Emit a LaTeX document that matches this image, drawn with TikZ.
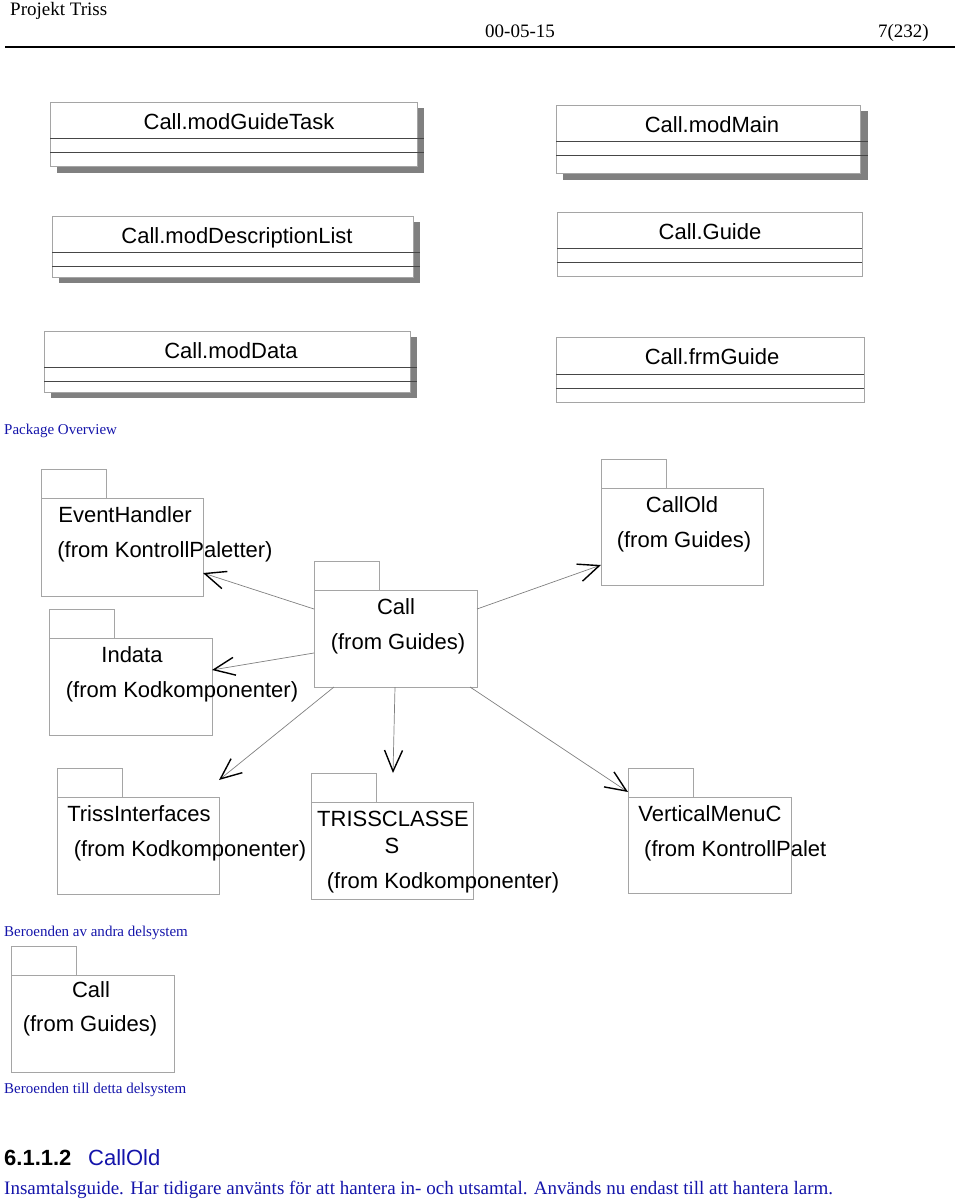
\documentclass[tikz,border=0pt]{standalone}
\usepackage{fontspec}
\setmainfont{Liberation Serif}
\setsansfont{Liberation Sans}
\usetikzlibrary{arrows.meta,calc,fit}
\definecolor{docblue}{RGB}{20,20,170}
\definecolor{boxgray}{RGB}{165,165,165}
\definecolor{sepgray}{RGB}{70,70,70}
\definecolor{shadowgray}{RGB}{128,128,128}
\tikzset{
  pkgbody/.style={draw=boxgray,line width=0.9pt,fill=white,inner sep=0pt,outer sep=0pt,anchor=north west},
  pkgtab/.style={draw=boxgray,line width=0.9pt,inner sep=0pt,outer sep=0pt,anchor=south west,minimum width=65pt,minimum height=29pt},
  clsbox/.style={draw=boxgray,line width=0.9pt,fill=white,inner sep=0pt,outer sep=0pt},
  clsshadow/.style={fill=shadowgray,draw=none},
  clssep/.style={draw=sepgray,line width=0.8pt},
  umltxt/.style={font=\fontsize{22}{26}\selectfont\sffamily,inner sep=0pt,anchor=base},
  hdrtxt/.style={font=\fontsize{19}{22}\selectfont,inner sep=0pt,anchor=base},
  captxt/.style={font=\fontsize{15}{18}\selectfont,text=docblue,inner sep=0pt,anchor=base west},
  dep/.style={draw=gray,line width=0.7pt,-{Straight Barb[length=21pt,width=18pt,line width=1.4pt,black]}},
}
\begin{document}
\begin{tikzpicture}[x=1pt,y=-1pt]
\useasboundingbox (0,0) rectangle (960,1199);
% header
\node[hdrtxt,anchor=base west] (hproj) at (10,16) {Projekt Triss};
\node[hdrtxt] (hdate) at (520,38) {00-05-15};
\node[hdrtxt,anchor=base east] (hpage) at (929,38) {7(232)};
\draw[line width=2.8pt] (5,47) -- (955,47);

% class boxes
% modGuideTask
\fill[clsshadow] (57,108) rectangle (424,173);
\node[clsbox,fit={(50,102)(417,166)}] (mgt) {};
\path[clssep] (50,138) -- (424,138) (50,152) -- (424,152);
\node[umltxt] (mgtt) at (239,129) {Call.modGuideTask};
% modDescriptionList
\fill[clsshadow] (59,222) rectangle (420,283);
\node[clsbox,fit={(52,216)(413,277)}] (mdl) {};
\path[clssep] (52,252) -- (420,252) (52,266) -- (420,266);
\node[umltxt] (mdlt) at (237,243) {Call.modDescriptionList};
% modMain
\fill[clsshadow] (563,111) rectangle (868,180);
\node[clsbox,fit={(556,105)(860,173)}] (mmain) {};
\path[clssep] (556,141) -- (868,141) (556,155) -- (868,155);
\node[umltxt] (mmaint) at (712,132) {Call.modMain};
% Guide
\node[clsbox,fit={(557,212)(862,276)}] (guide) {};
\path[clssep] (557,248) -- (862,248) (557,262) -- (862,262);
\node[umltxt] (guidet) at (710,239) {Call.Guide};
% modData
\fill[clsshadow] (51,337) rectangle (417,398);
\node[clsbox,fit={(44,331)(410,392)}] (mdata) {};
\path[clssep] (44,367) -- (417,367) (44,381) -- (417,381);
\node[umltxt] (mdatat) at (231,358) {Call.modData};
% frmGuide
\node[clsbox,fit={(556,337)(864,402)}] (frm) {};
\path[clssep] (556,374) -- (864,374) (556,388) -- (864,388);
\node[umltxt] (frmt) at (712,364) {Call.frmGuide};

\node[captxt] (cap1) at (4,434) {Package Overview};

% packages
\node[pkgbody,minimum width=162pt,minimum height=98pt] (eh) at (41,498) {};
\node[pkgtab] (ehtab) at (eh.north west) {};
\node[umltxt] (eht1) at (125,522) {EventHandler};
\node[umltxt] (eht2) at (165,557) {(from KontrollPaletter)};

\node[pkgbody,minimum width=163pt,minimum height=97pt] (ind) at (49,638) {};
\node[pkgtab] (indtab) at (ind.north west) {};
\node[umltxt] (indt1) at (132,662) {Indata};
\node[umltxt] (indt2) at (182,697) {(from Kodkomponenter)};

\node[pkgbody,minimum width=163pt,minimum height=97pt] (call) at (314,590) {};
\node[pkgtab] (calltab) at (call.north west) {};
\node[umltxt] (callt1) at (396,614) {Call};
\node[umltxt] (callt2) at (398,649) {(from Guides)};

\node[pkgbody,minimum width=162pt,minimum height=97pt] (cold) at (601,488) {};
\node[pkgtab] (coldtab) at (cold.north west) {};
\node[umltxt] (coldt1) at (682,512) {CallOld};
\node[umltxt] (coldt2) at (684,547) {(from Guides)};

\node[pkgbody,minimum width=162pt,minimum height=97pt] (ti) at (57,797) {};
\node[pkgtab] (titab) at (ti.north west) {};
\node[umltxt] (tit1) at (139,821) {TrissInterfaces};
\node[umltxt] (tit2) at (190,856) {(from Kodkomponenter)};

\node[pkgbody,minimum width=162pt,minimum height=97pt] (tc) at (311,802) {};
\node[pkgtab] (tctab) at (tc.north west) {};
\node[umltxt] (tct1) at (393,826) {TRISSCLASSE};
\node[umltxt] (tct2) at (392,853) {S};
\node[umltxt] (tct3) at (443,888) {(from Kodkomponenter)};

\node[pkgbody,minimum width=163pt,minimum height=96pt] (vm) at (628,797) {};
\node[pkgtab] (vmtab) at (vm.north west) {};
\node[umltxt] (vmt1) at (710,821) {VerticalMenuC};
\node[umltxt,anchor=base west] (vmt2) at (644,856) {(from KontrollPalet};

% dependencies
\draw[dep] ($(call.north west)+(0,19)$) -- ($(eh.north east)+(0,75)$);
\draw[dep] ($(call.north west)+(0,63)$) -- ($(ind.north east)+(0,32)$);
\draw[dep] ($(call.north east)+(0,19)$) -- ($(cold.north west)+(0,77)$);
\draw[dep] ($(call.south west)+(20,0)$) -- ($(ti.north east)+(0,-17)$);
\draw[dep] ($(call.south west)+(81,0)$) -- ($(tc.north west)+(82,-29)$);
\draw[dep] ($(call.south east)+(-7,0)$) -- ($(vm.north west)+(0,-5)$);

\node[captxt] (cap2) at (4,936) {Beroenden av andra delsystem};

\node[pkgbody,minimum width=163pt,minimum height=97pt] (callb) at (11,975) {};
\node[pkgtab] (callbtab) at (callb.north west) {};
\node[umltxt] (callbt1) at (91,997) {Call};
\node[umltxt] (callbt2) at (90,1031) {(from Guides)};

\node[captxt] (cap3) at (4,1093) {Beroenden till detta delsystem};

\node[font=\fontsize{22}{26}\selectfont\sffamily\bfseries,inner sep=0pt,anchor=base west] (secnum) at (4,1165) {6.1.1.2};
\node[font=\fontsize{22}{26}\selectfont\sffamily,text=docblue,inner sep=0pt,anchor=base west] (sectitle) at (88,1165) {CallOld};
\node[font=\fontsize{19}{22}\selectfont,text=docblue,inner sep=0pt,anchor=base west] (secbody) at (4,1194) {Insamtalsguide. Har tidigare använts för att hantera in- och utsamtal. Används nu endast till att hantera larm.};
\end{tikzpicture}
\end{document}
